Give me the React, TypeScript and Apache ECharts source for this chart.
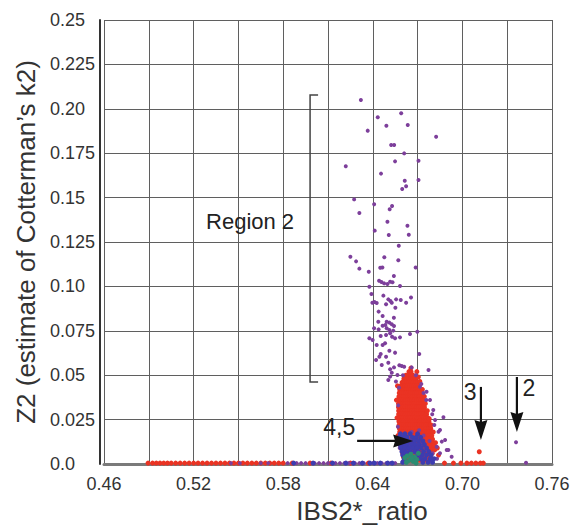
import React, { useEffect, useRef } from "react";
import * as echarts from "echarts";

const FONT = '"Liberation Sans", Arial, sans-serif';

const xTickValues = [0.46, 0.52, 0.58, 0.64, 0.7, 0.76];
const xGridValues = [0.46, 0.49, 0.52, 0.55, 0.58, 0.61, 0.64, 0.67, 0.7, 0.73, 0.76];
const yTickLabels = ["0.0", "0.025", "0.05", "0.075", "0.10", "0.125", "0.15", "0.175", "0.20", "0.225", "0.25"];

// Purple points (scattered column, region 2 and around the cluster)
const purplePoints: number[][] = [
  [0.632, 0.205], [0.659, 0.1975], [0.6433, 0.1952], [0.6634, 0.1909], [0.6491, 0.1905], [0.6366, 0.1877],
  [0.6824, 0.1843], [0.6523, 0.1796], [0.6543, 0.1796], [0.661, 0.1749], [0.6706, 0.1708], [0.6549, 0.1704],
  [0.6219, 0.1676], [0.6455, 0.1635], [0.6614, 0.1595], [0.6706, 0.1599], [0.6623, 0.1564], [0.6597, 0.1548],
  [0.6275, 0.149], [0.6409, 0.1462], [0.6529, 0.1453], [0.6513, 0.1434], [0.631, 0.1413],
  [0.6498, 0.1364], [0.6632, 0.1342], [0.6413, 0.1314], [0.6507, 0.1289], [0.6641, 0.1291], [0.6574, 0.1229],
  [0.625, 0.1167], [0.6477, 0.1164], [0.6288, 0.1141], [0.6571, 0.1147], [0.6464, 0.1107], [0.645, 0.1105],
  [0.6687, 0.1107], [0.631, 0.11], [0.6373, 0.1083], [0.6541, 0.1058], [0.6442, 0.1032], [0.6458, 0.1025],
  [0.6476, 0.1017], [0.6498, 0.1013], [0.6516, 0.1026], [0.6532, 0.1023], [0.6377, 0.0998], [0.6582, 0.1002],
  [0.6391, 0.0957], [0.6471, 0.0948], [0.6656, 0.0937], [0.6397, 0.0908], [0.6411, 0.0912], [0.6426, 0.0906],
  [0.6504, 0.0927], [0.6518, 0.0918], [0.6527, 0.0908], [0.6489, 0.0899], [0.6556, 0.0927], [0.6587, 0.0923],
  [0.6623, 0.0908], [0.6551, 0.088], [0.6439, 0.0858], [0.6466, 0.0833], [0.6541, 0.0824], [0.6437, 0.0801],
  [0.6493, 0.0801], [0.6511, 0.0796], [0.6484, 0.0783], [0.6466, 0.0779], [0.6527, 0.0787], [0.6542, 0.0777],
  [0.6409, 0.0764], [0.6439, 0.0758], [0.6493, 0.0764], [0.6511, 0.0755], [0.6537, 0.0751], [0.6698, 0.0745],
  [0.6377, 0.0708], [0.6453, 0.0721], [0.6489, 0.0726], [0.6516, 0.0736], [0.6529, 0.0717], [0.6549, 0.0708],
  [0.6582, 0.0713], [0.6649, 0.0732],
  [0.6399, 0.0698], [0.6426, 0.067], [0.6466, 0.067], [0.6482, 0.068], [0.6511, 0.0638], [0.6549, 0.0627],
  [0.6453, 0.0619], [0.6444, 0.0604], [0.6489, 0.0604], [0.6422, 0.0586], [0.6504, 0.057], [0.646, 0.0557],
  [0.6578, 0.0556], [0.6594, 0.0552], [0.661, 0.0548], [0.6542, 0.0544], [0.6516, 0.0533], [0.666, 0.0544],
  [0.6527, 0.0514], [0.6711, 0.0619], [0.6504, 0.0473], [0.6516, 0.0492], [0.6555, 0.0465], [0.6565, 0.0501],
  [0.6716, 0.0435], [0.676, 0.0407], [0.6783, 0.036], [0.6805, 0.0304], [0.6817, 0.0248], [0.685, 0.0191],
  [0.6884, 0.0135], [0.6906, 0.0079], [0.6928, 0.0041], [0.6873, 0.0263], [0.6773, 0.0529], [0.684, 0.0182],
  [0.6862, 0.0126], [0.6895, 0.0079], [0.6828, 0.0097], [0.685, 0.006],
  [0.6602, 0.05], [0.6688, 0.05], [0.6725, 0.045], [0.674, 0.04], [0.6758, 0.036], [0.6575, 0.043],
  [0.657, 0.033], [0.6568, 0.021], [0.6798, 0.028], [0.6812, 0.022],
  [0.66, 0.012], [0.664, 0.01], [0.668, 0.014], [0.672, 0.011], [0.676, 0.008], [0.662, 0.006], [0.67, 0.005],
  [0.674, 0.016], [0.678, 0.013], [0.666, 0.018], [0.671, 0.019], [0.658, 0.009], [0.68, 0.006], [0.683, 0.003],
  [0.6675, 0.0025], [0.7359, 0.0122], [0.7426, 0.0007],
  [0.545, 0.0005], [0.551, 0.0005], [0.565, 0.0005], [0.57, 0.0005], [0.583, 0.0005], [0.589, 0.0005],
  [0.592, 0.0005], [0.595, 0.0005], [0.601, 0.0005], [0.604, 0.0005], [0.607, 0.0005], [0.61, 0.0005],
  [0.615, 0.0005], [0.618, 0.0005], [0.621, 0.0005], [0.624, 0.0005], [0.628, 0.0005], [0.631, 0.0005],
  [0.634, 0.0005], [0.64, 0.0005], [0.643, 0.0005], [0.646, 0.0005], [0.649, 0.0005], [0.652, 0.0005], [0.655, 0.0005],
];

// Red cluster rows: [y, x values]
const redRows: [number, number[]][] = [
  [0.052, [0.6642, 0.6656]],
  [0.05, [0.6622, 0.6638, 0.6653, 0.6668]],
  [0.048, [0.6608, 0.6624, 0.6639, 0.6654, 0.6669, 0.6684]],
  [0.046, [0.6596, 0.6611, 0.6626, 0.6641, 0.6656, 0.6671, 0.6686, 0.6699]],
  [0.044, [0.6586, 0.6601, 0.6616, 0.6631, 0.6646, 0.6661, 0.6676, 0.6691, 0.6705]],
  [0.042, [0.658, 0.6595, 0.661, 0.6625, 0.664, 0.6655, 0.667, 0.6685, 0.67, 0.6712]],
  [0.04, [0.6577, 0.6592, 0.6607, 0.6622, 0.6637, 0.6652, 0.6667, 0.6682, 0.6697, 0.671, 0.6722]],
  [0.038, [0.6575, 0.659, 0.6605, 0.662, 0.6635, 0.665, 0.6665, 0.668, 0.6695, 0.671, 0.6726]],
  [0.036, [0.6573, 0.6588, 0.6603, 0.6618, 0.6633, 0.6648, 0.6663, 0.6678, 0.6693, 0.6708, 0.6722, 0.6735]],
  [0.034, [0.6572, 0.6587, 0.6602, 0.6617, 0.6632, 0.6647, 0.6662, 0.6677, 0.6692, 0.6707, 0.6722, 0.674]],
  [0.032, [0.6572, 0.6587, 0.6602, 0.6617, 0.6632, 0.6647, 0.6662, 0.6677, 0.6692, 0.6707, 0.6722, 0.6737, 0.6746]],
  [0.03, [0.6573, 0.6588, 0.6603, 0.6618, 0.6633, 0.6648, 0.6663, 0.6678, 0.6693, 0.6708, 0.6723, 0.6738, 0.6752]],
  [0.028, [0.6573, 0.6588, 0.6603, 0.6618, 0.6633, 0.6648, 0.6663, 0.6678, 0.6693, 0.6708, 0.6723, 0.6738, 0.6753, 0.676]],
  [0.026, [0.6574, 0.6589, 0.6604, 0.6619, 0.6634, 0.6649, 0.6664, 0.6679, 0.6694, 0.6709, 0.6724, 0.6739, 0.6754, 0.6768]],
  [0.024, [0.6575, 0.659, 0.6605, 0.662, 0.6635, 0.665, 0.6665, 0.668, 0.6695, 0.671, 0.6725, 0.674, 0.6755, 0.677, 0.6776]],
  [0.022, [0.6576, 0.6591, 0.6606, 0.6621, 0.6636, 0.6651, 0.6666, 0.6681, 0.6696, 0.6711, 0.6726, 0.6741, 0.6756, 0.6771, 0.6782]],
  [0.02, [0.6578, 0.6593, 0.6608, 0.6623, 0.6638, 0.6653, 0.6668, 0.6683, 0.6698, 0.6713, 0.6728, 0.6743, 0.6758, 0.6773, 0.6788]],
  [0.018, [0.658, 0.6595, 0.661, 0.6625, 0.664, 0.6655, 0.667, 0.6685, 0.67, 0.6715, 0.673, 0.6745, 0.676, 0.6775, 0.6792]],
  [0.016, [0.6583, 0.6598, 0.6613, 0.6628, 0.6643, 0.6658, 0.6673, 0.6688, 0.6703, 0.6718, 0.6733, 0.6748, 0.6763, 0.6778, 0.6795]],
  [0.014, [0.6586, 0.6601, 0.6616, 0.6631, 0.6646, 0.6661, 0.6676, 0.6691, 0.6706, 0.6721, 0.6736, 0.6751, 0.6766, 0.6781, 0.68]],
  [0.012, [0.659, 0.6605, 0.662, 0.6635, 0.665, 0.6665, 0.668, 0.6695, 0.671, 0.6725, 0.674, 0.6755, 0.677, 0.6785, 0.6805]],
  [0.01, [0.6593, 0.6608, 0.6623, 0.6638, 0.6653, 0.6668, 0.6683, 0.6698, 0.6713, 0.6728, 0.6743, 0.6758, 0.6773, 0.679, 0.681]],
  [0.008, [0.6596, 0.6612, 0.6627, 0.6642, 0.6657, 0.6672, 0.6687, 0.6702, 0.6717, 0.6732, 0.6747, 0.6762, 0.6777, 0.6795, 0.6815]],
  [0.006, [0.66, 0.6615, 0.663, 0.6645, 0.666, 0.6675, 0.669, 0.6705, 0.672, 0.6735, 0.675, 0.6765, 0.678, 0.6798]],
  [0.004, [0.6605, 0.662, 0.6635, 0.665, 0.6665, 0.668, 0.6695, 0.671, 0.6725, 0.674, 0.6755, 0.677, 0.6785]],
  [0.002, [0.661, 0.6625, 0.664, 0.6655, 0.667, 0.6685, 0.67, 0.6715, 0.673, 0.6745, 0.676, 0.6775]],
];

// Red points along the baseline, ragged cluster edges and isolated outliers
const redExtraPoints: number[][] = [
  [0.4895, 0.0005], [0.4925, 0.0005], [0.495, 0.0005], [0.4975, 0.0005], [0.5, 0.0005], [0.5025, 0.0005],
  [0.505, 0.0005], [0.508, 0.0005], [0.511, 0.0005], [0.514, 0.0005], [0.517, 0.0005], [0.52, 0.0005],
  [0.523, 0.0005], [0.526, 0.0005], [0.529, 0.0005], [0.532, 0.0005], [0.535, 0.0005], [0.538, 0.0005],
  [0.541, 0.0005], [0.544, 0.0005], [0.547, 0.0005], [0.55, 0.0005], [0.553, 0.0005], [0.556, 0.0005],
  [0.559, 0.0005], [0.562, 0.0005], [0.565, 0.0005], [0.568, 0.0005], [0.571, 0.0005], [0.574, 0.0005],
  [0.577, 0.0005], [0.58, 0.0005], [0.586, 0.0005], [0.598, 0.0005], [0.612, 0.0005], [0.625, 0.0005],
  [0.637, 0.0005], [0.688, 0.0005], [0.694, 0.0005], [0.699, 0.0005], [0.703, 0.0005], [0.706, 0.0005],
  [0.709, 0.0005], [0.712, 0.0005], [0.714, 0.0005], [0.7113, 0.0069],
  [0.6565, 0.044], [0.6558, 0.036], [0.6562, 0.026], [0.6568, 0.016], [0.6732, 0.042], [0.6745, 0.038],
  [0.6752, 0.034], [0.6765, 0.03], [0.6778, 0.0255], [0.679, 0.022], [0.6805, 0.018], [0.682, 0.012],
  [0.6705, 0.049], [0.6715, 0.0465], [0.6655, 0.054], [0.6695, 0.052], [0.6832, 0.009], [0.684, 0.005],
];

// Blue rows in the lower part of the cluster: [y, x values]
const blueRows: [number, number[]][] = [
  [0.017, [0.6585, 0.6615, 0.665, 0.67]],
  [0.015, [0.6575, 0.66, 0.663, 0.6665, 0.669, 0.672]],
  [0.013, [0.657, 0.6595, 0.662, 0.6645, 0.6675, 0.6705, 0.6735]],
  [0.011, [0.658, 0.6605, 0.663, 0.666, 0.6685, 0.6712, 0.6745]],
  [0.009, [0.659, 0.6615, 0.664, 0.6668, 0.6695, 0.6725, 0.676]],
  [0.007, [0.6595, 0.662, 0.665, 0.668, 0.6705, 0.674, 0.6775]],
  [0.005, [0.66, 0.663, 0.67, 0.673, 0.676, 0.679]],
  [0.003, [0.661, 0.672, 0.675, 0.6785, 0.681]],
  [0.001, [0.66, 0.6735, 0.677, 0.68]],
];

const blueExtraPoints: number[][] = [
  [0.587, 0.0005], [0.6, 0.0005], [0.613, 0.0005], [0.622, 0.0005], [0.627, 0.0005], [0.633, 0.0005],
  [0.638, 0.0005], [0.641, 0.0005], [0.645, 0.0005], [0.65, 0.0005], [0.653, 0.0005],
];

const greenPoints: number[][] = [
  [0.663, 0.0045], [0.6655, 0.0055], [0.668, 0.004], [0.6645, 0.002], [0.667, 0.0015], [0.6695, 0.0025],
  [0.6625, 0.001], [0.6705, 0.006], [0.6615, 0.0035], [0.666, 0.0035], [0.669, 0.0005],
];

// Annotations (data coordinates)
const regionLabel = { text: "Region 2", at: [0.5578, 0.1368] };
const bracket = { x: 0.598, yTop: 0.2078, yBottom: 0.0462 };
const arrows = [
  { label: "4,5", from: [0.6295, 0.013], to: [0.667, 0.013], labelAt: [0.6175, 0.0208] },
  { label: "3", from: [0.7124, 0.0434], to: [0.7124, 0.0135], labelAt: [0.7052, 0.0405] },
  { label: "2", from: [0.7365, 0.049], to: [0.7365, 0.018], labelAt: [0.7445, 0.0428] },
];

const COLORS = { purple: "#7d3f9b", red: "#ea3323", blue: "#3d3cb0", green: "#2b8c72" };

function rowsToPoints(rows: [number, number[]][]): number[][] {
  const out: number[][] = [];
  rows.forEach(([y, xs]) => xs.forEach((x) => out.push([x, y])));
  return out;
}

export default function App() {
  const ref = useRef<HTMLDivElement>(null);
  useEffect(() => {
    if (!ref.current) return;
    const chart = echarts.init(ref.current, undefined, { renderer: "svg" });
    const redPoints = rowsToPoints(redRows).concat(redExtraPoints);
    const bluePoints = rowsToPoints(blueRows).concat(blueExtraPoints);
    chart.setOption({
      animation: false,
      backgroundColor: "#ffffff",
      grid: { left: 104, right: 36, top: 20, bottom: 65, containLabel: false },
      xAxis: {
        type: "value",
        min: 0.46,
        max: 0.76,
        offset: 6,
        name: "IBS2*_ratio",
        nameLocation: "middle",
        nameGap: 22,
        nameTextStyle: { fontSize: 26, color: "#333", fontFamily: FONT, padding: [0, 0, 0, 68] },
        axisLine: { show: true, lineStyle: { color: "#7a7a7a", width: 3 } },
        axisTick: { show: false, customValues: xGridValues },
        axisLabel: {
          customValues: xTickValues,
          fontSize: 18,
          color: "#333",
          fontFamily: FONT,
          margin: 5,
          formatter: (v: number) => v.toFixed(2),
        },
        splitLine: { show: true, lineStyle: { color: "#5f5f5f", width: 1 } },
      },
      yAxis: {
        type: "value",
        min: 0,
        max: 0.25,
        interval: 0.025,
        offset: 4,
        name: "Z2 (estimate of Cotterman\u2019s k2)",
        nameLocation: "middle",
        nameGap: 57,
        nameTextStyle: { fontSize: 26, color: "#333", fontFamily: FONT },
        axisLine: { show: true, lineStyle: { color: "#333", width: 2 } },
        axisTick: { show: false },
        axisLabel: {
          align: "left",
          margin: 50,
          fontSize: 18,
          color: "#333",
          fontFamily: FONT,
          formatter: (v: number) => yTickLabels[Math.round(v / 0.025)],
        },
        splitLine: { show: true, lineStyle: { color: "#5f5f5f", width: 1 } },
      },
      series: [
        { type: "scatter", name: "red", data: redPoints, symbolSize: 5, itemStyle: { color: COLORS.red, opacity: 1 } },
        { type: "scatter", name: "purple", data: purplePoints, symbolSize: 4, itemStyle: { color: COLORS.purple, opacity: 1 } },
        { type: "scatter", name: "blue", data: bluePoints, symbolSize: 5, itemStyle: { color: COLORS.blue, opacity: 1 } },
        { type: "scatter", name: "green", data: greenPoints, symbolSize: 5, itemStyle: { color: COLORS.green, opacity: 1 } },
      ],
    });

    const P = (x: number, y: number) => chart.convertToPixel({ gridIndex: 0 }, [x, y]) as number[];
    const graphics: any[] = [];
    const rp = P(regionLabel.at[0], regionLabel.at[1]);
    graphics.push({
      type: "text",
      z: 100,
      x: rp[0],
      y: rp[1],
      style: { text: regionLabel.text, fontSize: 22, fontFamily: FONT, fill: "#222", align: "center", verticalAlign: "middle" },
    });
    const bt = P(bracket.x, bracket.yTop);
    const bb = P(bracket.x, bracket.yBottom);
    graphics.push({
      type: "polyline",
      z: 100,
      shape: { points: [[bt[0] + 8, bt[1]], [bt[0], bt[1]], [bb[0], bb[1]], [bb[0] + 8, bb[1]]] },
      style: { stroke: "#444", lineWidth: 1.5, fill: null },
    });
    arrows.forEach((a) => {
      const s = P(a.from[0], a.from[1]);
      const t = P(a.to[0], a.to[1]);
      const dx = t[0] - s[0];
      const dy = t[1] - s[1];
      const len = Math.sqrt(dx * dx + dy * dy);
      const ux = dx / len;
      const uy = dy / len;
      const headLen = 20;
      const halfW = 6.5;
      const bx = t[0] - ux * headLen;
      const by = t[1] - uy * headLen;
      graphics.push({
        type: "line",
        z: 100,
        shape: { x1: s[0], y1: s[1], x2: bx + ux * 2, y2: by + uy * 2 },
        style: { stroke: "#111", lineWidth: 2.2 },
      });
      graphics.push({
        type: "polygon",
        z: 100,
        shape: { points: [[t[0], t[1]], [bx - uy * halfW, by + ux * halfW], [bx + ux * 2, by + uy * 2], [bx + uy * halfW, by - ux * halfW]] },
        style: { fill: "#111" },
      });
      const lp = P(a.labelAt[0], a.labelAt[1]);
      graphics.push({
        type: "text",
        z: 100,
        x: lp[0],
        y: lp[1],
        style: { text: a.label, fontSize: 23, fontFamily: FONT, fill: "#222", align: "center", verticalAlign: "middle" },
      });
    });
    chart.setOption({ graphic: graphics });
    return () => chart.dispose();
  }, []);
  return <div ref={ref} style={{ position: "fixed", left: 0, top: 0, width: 588, height: 529, background: "#fff" }} />;
}
